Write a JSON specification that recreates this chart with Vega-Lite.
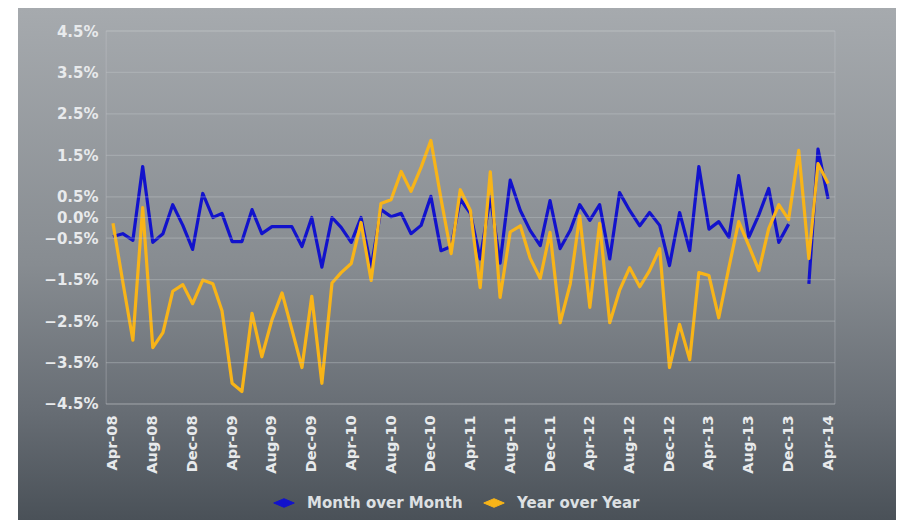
{
  "$schema": "https://vega.github.io/schema/vega-lite/v6.json",
  "width": 878,
  "height": 512,
  "autosize": {"type": "none"},
  "padding": {"left": 18, "top": 8, "right": 3, "bottom": 0},
  "background": "#ffffff",
  "config": {
    "view": {"stroke": null},
    "font": "DejaVu Sans"
  },
  "datasets": {
    "series": [
      {"date": "2008-04-01", "Month over Month": -0.46, "Year over Year": -0.14},
      {"date": "2008-05-01", "Month over Month": -0.39, "Year over Year": -1.55},
      {"date": "2008-06-01", "Month over Month": -0.55, "Year over Year": -2.96},
      {"date": "2008-07-01", "Month over Month": 1.23, "Year over Year": 0.24},
      {"date": "2008-08-01", "Month over Month": -0.6, "Year over Year": -3.14},
      {"date": "2008-09-01", "Month over Month": -0.39, "Year over Year": -2.78},
      {"date": "2008-10-01", "Month over Month": 0.31, "Year over Year": -1.78},
      {"date": "2008-11-01", "Month over Month": -0.19, "Year over Year": -1.62},
      {"date": "2008-12-01", "Month over Month": -0.77, "Year over Year": -2.08},
      {"date": "2009-01-01", "Month over Month": 0.58, "Year over Year": -1.51},
      {"date": "2009-02-01", "Month over Month": 0.0, "Year over Year": -1.6},
      {"date": "2009-03-01", "Month over Month": 0.1, "Year over Year": -2.25},
      {"date": "2009-04-01", "Month over Month": -0.58, "Year over Year": -4.0},
      {"date": "2009-05-01", "Month over Month": -0.58, "Year over Year": -4.2},
      {"date": "2009-06-01", "Month over Month": 0.19, "Year over Year": -2.31},
      {"date": "2009-07-01", "Month over Month": -0.39, "Year over Year": -3.36},
      {"date": "2009-08-01", "Month over Month": -0.22, "Year over Year": -2.47},
      {"date": "2009-09-01", "Month over Month": -0.22, "Year over Year": -1.82},
      {"date": "2009-10-01", "Month over Month": -0.22, "Year over Year": -2.7},
      {"date": "2009-11-01", "Month over Month": -0.7, "Year over Year": -3.62},
      {"date": "2009-12-01", "Month over Month": 0.0, "Year over Year": -1.9},
      {"date": "2010-01-01", "Month over Month": -1.2, "Year over Year": -4.0},
      {"date": "2010-02-01", "Month over Month": 0.0, "Year over Year": -1.58},
      {"date": "2010-03-01", "Month over Month": -0.24, "Year over Year": -1.33},
      {"date": "2010-04-01", "Month over Month": -0.6, "Year over Year": -1.11},
      {"date": "2010-05-01", "Month over Month": 0.0, "Year over Year": -0.12},
      {"date": "2010-06-01", "Month over Month": -1.2, "Year over Year": -1.52},
      {"date": "2010-07-01", "Month over Month": 0.19, "Year over Year": 0.34},
      {"date": "2010-08-01", "Month over Month": 0.02, "Year over Year": 0.43},
      {"date": "2010-09-01", "Month over Month": 0.1, "Year over Year": 1.11},
      {"date": "2010-10-01", "Month over Month": -0.39, "Year over Year": 0.63},
      {"date": "2010-11-01", "Month over Month": -0.19, "Year over Year": 1.21},
      {"date": "2010-12-01", "Month over Month": 0.51, "Year over Year": 1.86},
      {"date": "2011-01-01", "Month over Month": -0.8, "Year over Year": 0.45},
      {"date": "2011-02-01", "Month over Month": -0.7, "Year over Year": -0.87},
      {"date": "2011-03-01", "Month over Month": 0.44, "Year over Year": 0.67},
      {"date": "2011-04-01", "Month over Month": 0.1, "Year over Year": 0.17},
      {"date": "2011-05-01", "Month over Month": -1.0, "Year over Year": -1.69},
      {"date": "2011-06-01", "Month over Month": 0.5, "Year over Year": 1.1},
      {"date": "2011-07-01", "Month over Month": -1.1, "Year over Year": -1.93},
      {"date": "2011-08-01", "Month over Month": 0.9, "Year over Year": -0.35},
      {"date": "2011-09-01", "Month over Month": 0.17, "Year over Year": -0.2},
      {"date": "2011-10-01", "Month over Month": -0.31, "Year over Year": -0.98},
      {"date": "2011-11-01", "Month over Month": -0.68, "Year over Year": -1.47},
      {"date": "2011-12-01", "Month over Month": 0.41, "Year over Year": -0.36},
      {"date": "2012-01-01", "Month over Month": -0.75, "Year over Year": -2.54},
      {"date": "2012-02-01", "Month over Month": -0.31, "Year over Year": -1.6},
      {"date": "2012-03-01", "Month over Month": 0.31, "Year over Year": 0.04},
      {"date": "2012-04-01", "Month over Month": -0.07, "Year over Year": -2.17},
      {"date": "2012-05-01", "Month over Month": 0.31, "Year over Year": -0.14},
      {"date": "2012-06-01", "Month over Month": -1.0, "Year over Year": -2.54},
      {"date": "2012-07-01", "Month over Month": 0.6, "Year over Year": -1.76},
      {"date": "2012-08-01", "Month over Month": 0.17, "Year over Year": -1.21},
      {"date": "2012-09-01", "Month over Month": -0.2, "Year over Year": -1.67},
      {"date": "2012-10-01", "Month over Month": 0.12, "Year over Year": -1.28},
      {"date": "2012-11-01", "Month over Month": -0.19, "Year over Year": -0.75},
      {"date": "2012-12-01", "Month over Month": -1.16, "Year over Year": -3.62},
      {"date": "2013-01-01", "Month over Month": 0.12, "Year over Year": -2.58},
      {"date": "2013-02-01", "Month over Month": -0.8, "Year over Year": -3.43},
      {"date": "2013-03-01", "Month over Month": 1.23, "Year over Year": -1.33},
      {"date": "2013-04-01", "Month over Month": -0.28, "Year over Year": -1.4},
      {"date": "2013-05-01", "Month over Month": -0.1, "Year over Year": -2.42},
      {"date": "2013-06-01", "Month over Month": -0.48, "Year over Year": -1.21},
      {"date": "2013-07-01", "Month over Month": 1.01, "Year over Year": -0.1},
      {"date": "2013-08-01", "Month over Month": -0.48, "Year over Year": -0.68},
      {"date": "2013-09-01", "Month over Month": 0.07, "Year over Year": -1.28},
      {"date": "2013-10-01", "Month over Month": 0.7, "Year over Year": -0.27},
      {"date": "2013-11-01", "Month over Month": -0.6, "Year over Year": 0.31},
      {"date": "2013-12-01", "Month over Month": -0.16, "Year over Year": -0.05},
      {"date": "2014-01-01", "Month over Month": null, "Year over Year": 1.62},
      {"date": "2014-02-01", "Month over Month": -1.6, "Year over Year": -0.99},
      {"date": "2014-03-01", "Month over Month": 1.65, "Year over Year": 1.3},
      {"date": "2014-04-01", "Month over Month": 0.45, "Year over Year": 0.82}
    ],
    "grid": [
      {"g": 4.5}, {"g": 3.5}, {"g": 2.5}, {"g": 1.5}, {"g": 0.5}, {"g": 0},
      {"g": -0.5}, {"g": -1.5}, {"g": -2.5}, {"g": -3.5}, {"g": -4.5}
    ]
  },
  "layer": [
    {
      "data": {"values": [{}]},
      "mark": {
        "type": "rect",
        "fill": {
          "gradient": "linear",
          "x1": 0, "y1": 0, "x2": 0, "y2": 1,
          "stops": [
            {"offset": 0, "color": "#a6aaae"},
            {"offset": 0.5, "color": "#878c91"},
            {"offset": 0.78, "color": "#686e75"},
            {"offset": 1, "color": "#4a5158"}
          ]
        }
      },
      "encoding": {}
    },
    {
      "data": {"name": "series"},
      "transform": [
        {"fold": ["Month over Month", "Year over Year"], "as": ["series", "value"]}
      ],
      "mark": {"type": "line", "strokeWidth": 3.2, "strokeJoin": "round"},
      "encoding": {
        "x": {
          "field": "date", "type": "temporal", "title": null,
          "scale": {"type": "utc", "domain": [{"year": 2007, "month": 6, "date": 15, "utc": true}, {"year": 2014, "month": 10, "date": 26, "utc": true}], "nice": false},
          "axis": {
            "orient": "bottom",
            "offset": -116,
            "zindex": 2,
            "title": null,
            "format": "%b-%y",
            "values": [
              {"year": 2008, "month": 4, "date": 1, "utc": true},
              {"year": 2008, "month": 8, "date": 1, "utc": true},
              {"year": 2008, "month": 12, "date": 1, "utc": true},
              {"year": 2009, "month": 4, "date": 1, "utc": true},
              {"year": 2009, "month": 8, "date": 1, "utc": true},
              {"year": 2009, "month": 12, "date": 1, "utc": true},
              {"year": 2010, "month": 4, "date": 1, "utc": true},
              {"year": 2010, "month": 8, "date": 1, "utc": true},
              {"year": 2010, "month": 12, "date": 1, "utc": true},
              {"year": 2011, "month": 4, "date": 1, "utc": true},
              {"year": 2011, "month": 8, "date": 1, "utc": true},
              {"year": 2011, "month": 12, "date": 1, "utc": true},
              {"year": 2012, "month": 4, "date": 1, "utc": true},
              {"year": 2012, "month": 8, "date": 1, "utc": true},
              {"year": 2012, "month": 12, "date": 1, "utc": true},
              {"year": 2013, "month": 4, "date": 1, "utc": true},
              {"year": 2013, "month": 8, "date": 1, "utc": true},
              {"year": 2013, "month": 12, "date": 1, "utc": true},
              {"year": 2014, "month": 4, "date": 1, "utc": true}
            ],
            "labelAngle": 270,
            "labelAlign": "right",
            "labelBaseline": "middle",
            "labelPadding": 11,
            "labelFontSize": 14.5,
            "labelFontWeight": "bold",
            "labelColor": "#e8eaec",
            "labelFont": "DejaVu Sans",
            "labelOverlap": false,
            "labelFlush": false,
            "ticks": false,
            "domain": false,
            "grid": false
          }
        },
        "y": {
          "field": "value", "type": "quantitative", "title": null,
          "scale": {"domain": [-7.299, 5.055], "nice": false, "zero": false},
          "axis": {
            "orient": "left",
            "offset": -88,
            "zindex": 2,
            "title": null,
            "values": [4.5, 3.5, 2.5, 1.5, 0.5, 0, -0.5, -1.5, -2.5, -3.5, -4.5],
            "labelExpr": "format(datum.value, '.1f') + '%'",
            "labelPadding": 8,
            "labelFontSize": 15,
            "labelFontWeight": "bold",
            "labelColor": "#e8eaec",
            "labelFont": "DejaVu Sans",
            "labelOverlap": false,
            "labelFlush": false,
            "ticks": false,
            "domain": false,
            "grid": false
          }
        },
        "color": {
          "field": "series", "type": "nominal",
          "scale": {"domain": ["Month over Month", "Year over Year"], "range": ["#1212cc", "#f8b418"]},
          "legend": {
            "title": null,
            "orient": "none",
            "direction": "horizontal",
            "legendX": 255,
            "legendY": 484,
            "padding": 0,
            "symbolType": "M-1,0L0,-0.42L1,0L0,0.42Z",
            "symbolSize": 420,
            "symbolStrokeWidth": 1,
            "labelFontSize": 15,
            "labelFontWeight": "bold",
            "labelColor": "#dde0e3",
            "labelFont": "DejaVu Sans",
            "labelOffset": 12,
            "columnPadding": 18,
            "labelLimit": 300,
            "encode": {
              "symbols": {"update": {"fill": {"scale": "color", "field": "value"}}}
            }
          }
        }
      }
    },
    {
      "data": {"name": "grid"},
      "mark": {"type": "rule", "color": "#c4c8cc", "strokeWidth": 1.2, "opacity": 0.35},
      "encoding": {
        "y": {"field": "g", "type": "quantitative", "title": null},
        "x": {"datum": {"year": 2008, "month": 3, "date": 11, "utc": true}, "type": "temporal", "title": null},
        "x2": {"datum": {"year": 2014, "month": 4, "date": 22, "utc": true}}
      }
    },
    {
      "data": {"values": [{}]},
      "mark": {"type": "rect", "fill": null, "stroke": "#c8ccd0", "strokeWidth": 1, "strokeOpacity": 0.35},
      "encoding": {
        "x": {"datum": {"year": 2008, "month": 3, "date": 11, "utc": true}, "type": "temporal", "title": null},
        "x2": {"datum": {"year": 2014, "month": 4, "date": 22, "utc": true}},
        "y": {"datum": 4.5, "type": "quantitative", "title": null},
        "y2": {"datum": -4.5}
      }
    }
  ]
}
